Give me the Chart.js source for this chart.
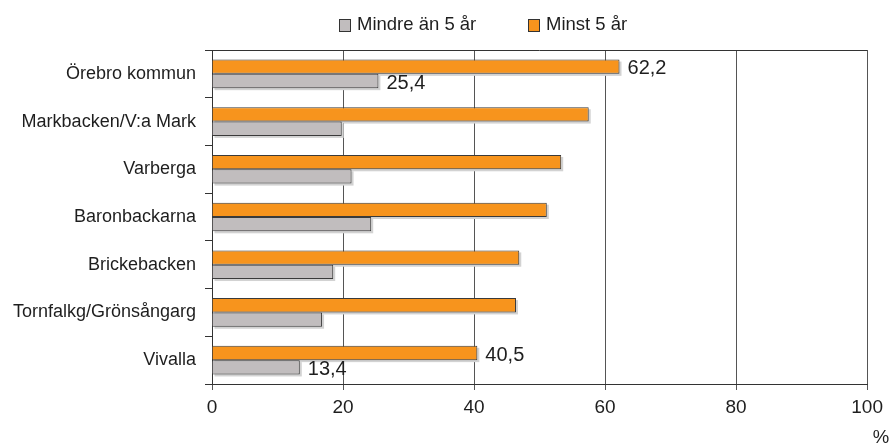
<!DOCTYPE html>
<html>
<head>
<meta charset="utf-8">
<script src="https://cdn.jsdelivr.net/npm/chart.js@4.4.0/dist/chart.umd.min.js"></script>
<style>
    html, body { margin: 0; padding: 0; background: #fff; }
</style>
</head>
<body>
<canvas id="chart" width="889" height="443"></canvas>
<script>
const areas = ['Örebro kommun', 'Markbacken/V:a Mark', 'Varberga', 'Baronbackarna', 'Brickebacken', 'Tornfalkg/Grönsångarg', 'Vivalla'];
const minst5 = [62.2, 57.5, 53.3, 51.1, 46.9, 46.4, 40.5];
const mindre5 = [25.4, 19.8, 21.3, 24.3, 18.5, 16.8, 13.4];
const seriesNames = ['Minst 5 år', 'Mindre än 5 år'];
const xTicks = [0, 20, 40, 60, 80, 100];
const labelledRows = [0, 6];

const FONT = "'Liberation Sans', Arial, sans-serif";
const ORANGE = '#f7941d';
const GREY = '#c1bdbe';
const INK = '#1e1e1e';

const fmt = v => v.toFixed(1).replace('.', ',');

// shadows, frame, data labels, legend and unit
const extras = {
    id: 'extras',
    beforeDatasetsDraw(chart) {
        const ctx = chart.ctx;
        ctx.save();
        ctx.fillStyle = '#d2d2d2';
        chart.data.datasets.forEach((ds, d) => {
            chart.getDatasetMeta(d).data.forEach(bar => {
                const top = bar.y - bar.height / 2;
                ctx.fillRect(bar.base + 2, top + 2, bar.x - bar.base, bar.height);
            });
        });
        ctx.restore();
    },
    afterDraw(chart) {
        const ctx = chart.ctx;
        const area = chart.chartArea;
        ctx.save();
        // top frame line
        ctx.strokeStyle = '#333';
        ctx.lineWidth = 1;
        ctx.beginPath();
        ctx.moveTo(area.left, area.top + 0.5);
        ctx.lineTo(area.right, area.top + 0.5);
        ctx.stroke();

        // value labels
        ctx.font = '20px ' + FONT;
        ctx.fillStyle = INK;
        ctx.textBaseline = 'middle';
        ctx.textAlign = 'left';
        chart.data.datasets.forEach((ds, d) => {
            const meta = chart.getDatasetMeta(d);
            labelledRows.forEach(i => {
                const bar = meta.data[i];
                ctx.fillText(fmt(ds.data[i]), bar.x + 8, bar.y + 2);
            });
        });

        // legend (grey series first)
        const items = [
            { text: seriesNames[1], color: GREY, x: 339 },
            { text: seriesNames[0], color: ORANGE, x: 528 }
        ];
        ctx.font = '18.5px ' + FONT;
        items.forEach(it => {
            ctx.fillStyle = it.color;
            ctx.fillRect(it.x, 19, 11, 12);
            ctx.strokeStyle = '#333';
            ctx.strokeRect(it.x + 0.5, 19.5, 11, 12);
            ctx.fillStyle = INK;
            ctx.fillText(it.text, it.x + 18, 25);
        });

        // unit
        ctx.textAlign = 'center';
        ctx.fillText('%', 881, 438);
        ctx.restore();
    }
};

new Chart(document.getElementById('chart'), {
    type: 'bar',
    data: {
        labels: areas,
        datasets: [{
            label: seriesNames[0],
            data: minst5,
            backgroundColor: ORANGE,
            borderColor: '#3a3a3a',
            borderWidth: 1
        }, {
            label: seriesNames[1],
            data: mindre5,
            backgroundColor: GREY,
            borderColor: '#3a3a3a',
            borderWidth: 1
        }]
    },
    options: {
        indexAxis: 'y',
        responsive: false,
        animation: false,
        devicePixelRatio: 1,
        layout: {
            padding: { top: 50, right: 21, left: 0, bottom: 0 }
        },
        datasets: {
            bar: {
                categoryPercentage: 0.6,
                barPercentage: 1.0
            }
        },
        plugins: {
            legend: { display: false },
            tooltip: { enabled: false }
        },
        scales: {
            x: {
                min: 0,
                max: 100,
                afterBuildTicks: scale => {
                    scale.ticks = xTicks.map(v => ({ value: v }));
                },
                afterFit: scale => {
                    scale.height = 59;
                },
                ticks: {
                    color: INK,
                    padding: 6,
                    font: { family: FONT, size: 19 }
                },
                grid: {
                    color: '#555',
                    lineWidth: 1,
                    tickLength: 6
                },
                border: { color: '#333' }
            },
            y: {
                afterFit: scale => {
                    scale.width = 212;
                },
                ticks: {
                    color: INK,
                    padding: 9,
                    font: { family: FONT, size: 18 }
                },
                grid: {
                    drawOnChartArea: false,
                    color: '#333',
                    tickLength: 7
                },
                border: { color: '#333' }
            }
        }
    },
    plugins: [extras]
});
</script>
</body>
</html>
